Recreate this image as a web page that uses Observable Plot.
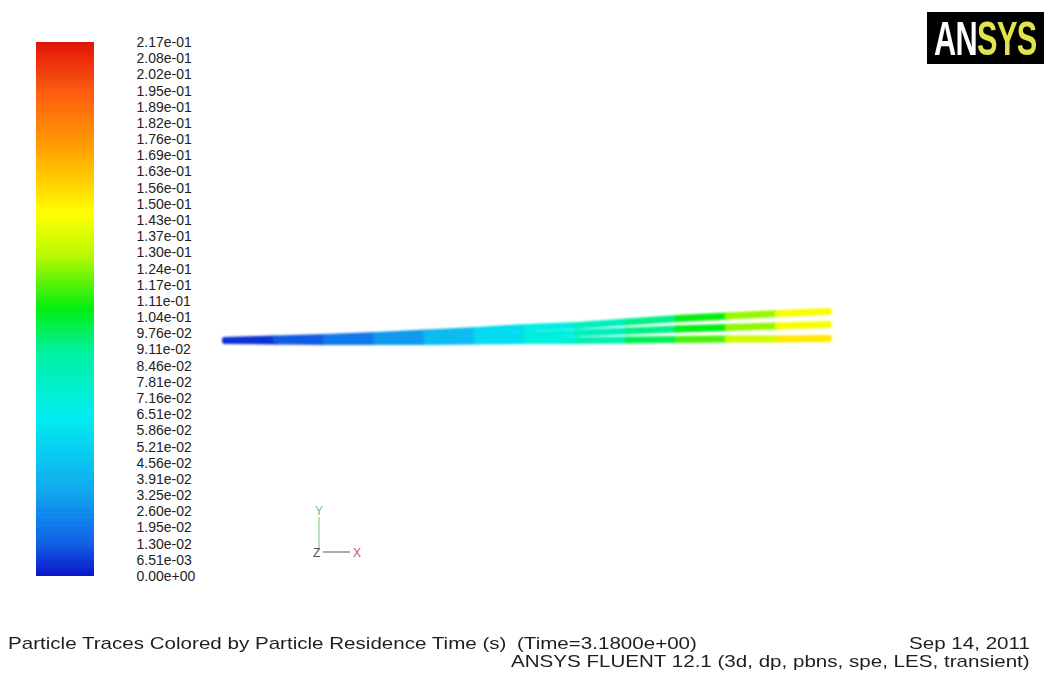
<!DOCTYPE html>
<html>
<head>
<meta charset="utf-8">
<script src="https://cdn.jsdelivr.net/npm/d3@7"></script>
<script src="https://cdn.jsdelivr.net/npm/@observablehq/plot@0.6"></script>
<style>
  body { margin: 0; background: #fff; }
  #root { position: relative; width: 1048px; height: 690px; overflow: hidden; background: #fff;
          font-family: "Liberation Sans", Arial, sans-serif; color: #1e1e1e; }
  .abs { position: absolute; }
  .foot { font-size: 17px; line-height: 17px; white-space: nowrap; }
  #logo { left: 927px; top: 12px; width: 117px; height: 52px; background: #000; overflow: hidden; }
  #logo span.word { display: inline-block; font-weight: bold; font-size: 48px; line-height: 54px;
          transform: scaleX(0.64); transform-origin: left center; margin-left: 7px; letter-spacing: -1px; }
</style>
</head>
<body>
<div id="root">
  <div id="cbar" class="abs" style="left:0;top:0;"></div>
  <div id="traces" class="abs" style="left:200px;top:280px;"></div>
  <div id="logo" class="abs"><span class="word"><span style="color:#fff">AN</span><span style="color:#e2e44c">SYS</span></span></div>
  <svg class="abs" style="left:300px;top:495px;" width="80" height="70">
    <line x1="19" y1="22" x2="19" y2="55" stroke="#8fcf9f" stroke-width="1.3"/>
    <text x="15" y="20" font-size="12" fill="#6cbf83" font-family="Liberation Sans, Arial">Y</text>
    <line x1="23" y1="57" x2="50" y2="57" stroke="#8a7480" stroke-width="1.3"/>
    <text x="13" y="62" font-size="12" fill="#555" font-family="Liberation Sans, Arial">Z</text>
    <text x="53" y="62" font-size="12" fill="#c8506e" font-family="Liberation Sans, Arial">X</text>
  </svg>
  <div class="abs foot" style="left:8px;top:635px;transform:scaleX(1.21);transform-origin:left center;">Particle Traces Colored by Particle Residence Time (s)</div>
  <div class="abs foot" style="left:517px;top:635px;transform:scaleX(1.21);transform-origin:left center;">(Time=3.1800e+00)</div>
  <div class="abs foot" style="right:18px;top:635px;transform:scaleX(1.21);transform-origin:right center;">Sep 14, 2011</div>
  <div class="abs foot" style="right:18px;top:653px;transform:scaleX(1.21);transform-origin:right center;">ANSYS FLUENT 12.1 (3d, dp, pbns, spe, LES, transient)</div>
</div>
<script>
// ---- Data ----
// Colour-bar labels (top to bottom), particle residence time (s)
const residenceLabels = ["2.17e-01","2.08e-01","2.02e-01","1.95e-01","1.89e-01","1.82e-01","1.76e-01","1.69e-01",
  "1.63e-01","1.56e-01","1.50e-01","1.43e-01","1.37e-01","1.30e-01","1.24e-01","1.17e-01","1.11e-01","1.04e-01",
  "9.76e-02","9.11e-02","8.46e-02","7.81e-02","7.16e-02","6.51e-02","5.86e-02","5.21e-02","4.56e-02","3.91e-02",
  "3.25e-02","2.60e-02","1.95e-02","1.30e-02","6.51e-03","0.00e+00"];
const residenceMax = 0.217;

// Particle traces: axial position, lateral offset, residence time (s)
const traceX = [0, 50, 100, 150, 200, 250, 300, 350, 400, 450, 500, 550, 600];
const topY   = [0, 1.5, 3, 5, 7.5, 10, 13, 15, 18.5, 22, 24.5, 27, 29];
const topT   = [0.002, 0.008, 0.016, 0.025, 0.036, 0.050, 0.064, 0.076, 0.088, 0.101, 0.117, 0.136, 0.155];
const midY   = [0, 0.5, 1, 2, 3, 4.5, 6, 7.5, 9.5, 11.5, 13, 14.5, 16];
const midT   = [0.002, 0.008, 0.016, 0.025, 0.036, 0.050, 0.064, 0.076, 0.088, 0.100, 0.116, 0.135, 0.155];
const botY   = [0, -0.5, -1, -1, -1, -0.5, 0, 0, 0.5, 1, 1.5, 1.5, 2];
const botT   = [0.002, 0.008, 0.016, 0.025, 0.036, 0.050, 0.065, 0.078, 0.092, 0.108, 0.126, 0.146, 0.162];

// ---- Colour scale (Fluent spectrum) ----
const stopFractions = [0, 0.06, 0.16, 0.3, 0.42, 0.5, 0.6, 0.68, 0.8, 0.9, 1];
const stopColors = ["#0a14c8", "#1060e6", "#10a8f0", "#00eef0", "#00f0a0", "#00ee10", "#b8f800", "#ffff00", "#ffa000", "#ff6010", "#e01408"];
const colorScale = {type: "linear", domain: stopFractions.map(f => f * residenceMax), range: stopColors, interpolate: "rgb"};

// ---- Colour bar ----
const nLab = residenceLabels.length - 1; // 33 intervals
const N = 330;
const slices = d3.range(N).map(k => ({lo: k * nLab / N, hi: Math.min(nLab, (k + 1.4) * nLab / N), t: (k + 0.5) / N * residenceMax}));
const cbar = Plot.plot({
  width: 210, height: 610,
  marginLeft: 36, marginRight: 116, marginTop: 42, marginBottom: 34,
  style: {background: "none", fontSize: "14px", fontFamily: "Liberation Sans, Arial, sans-serif", color: "#222", overflow: "visible"},
  x: {domain: [0, 1], axis: null},
  y: {domain: [0, nLab], axis: "right", ticks: d3.range(nLab + 1), tickFormat: i => residenceLabels[nLab - i], tickSize: 0, tickPadding: 42, label: null},
  color: colorScale,
  marks: [
    Plot.rect(slices, {x1: 0, x2: 1, y1: "lo", y2: "hi", fill: "t"})
  ]
});
document.getElementById("cbar").appendChild(cbar);

// ---- Traces ----
const traces = [
  {name: "bottom", y: botY, t: botT},
  {name: "middle", y: midY, t: midT},
  {name: "top", y: topY, t: topT}
];
const segments = [];
for (const tr of traces) {
  for (let i = 0; i < traceX.length - 1; i++) {
    segments.push({trace: tr.name, x1: traceX[i], y1: tr.y[i], x2: traceX[i + 1], y2: tr.y[i + 1], t: (tr.t[i] + tr.t[i + 1]) / 2});
  }
}
const tplot = Plot.plot({
  width: 660, height: 90,
  marginLeft: 25, marginRight: 32, marginTop: 28, marginBottom: 30,
  style: {background: "none", overflow: "visible"},
  x: {domain: [0, 600], axis: null},
  y: {domain: [0, 32], axis: null},
  color: colorScale,
  marks: [
    Plot.link(segments, {x1: "x1", y1: "y1", x2: "x2", y2: "y2", stroke: "t", strokeWidth: 7, strokeLinecap: "round"})
  ]
});
tplot.style.filter = "blur(1px)";
document.getElementById("traces").appendChild(tplot);
</script>
</body>
</html>
